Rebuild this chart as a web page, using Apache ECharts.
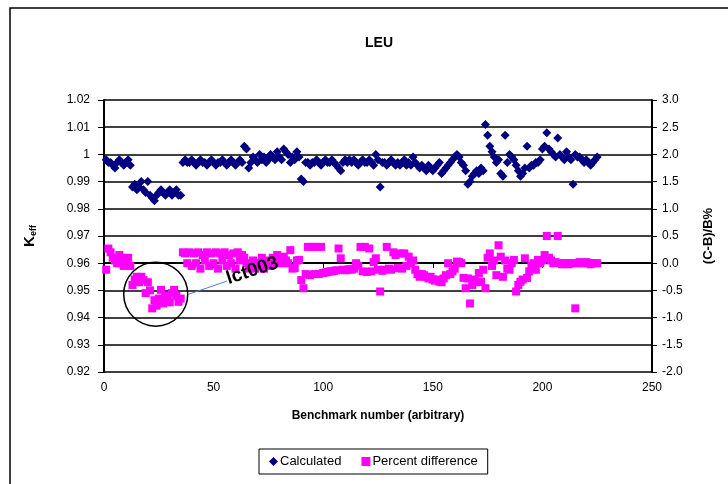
<!DOCTYPE html>
<html>
<head>
<meta charset="utf-8">
<script src="https://cdn.jsdelivr.net/npm/echarts@6/dist/echarts.min.js"></script>
<style>
  html, body { margin: 0; padding: 0; background: #fff; }
  #chart { width: 728px; height: 484px; }
</style>
</head>
<body>
<div id="chart"></div>
<script>
// benchmark number = index + 1
var calculated = [
  0.998, 0.997, 0.997, 0.996, 0.995, 0.997, 0.998, 0.997, 0.996, 0.997,
  0.998, 0.996, 0.988, 0.989, 0.987, 0.988, 0.990, 0.987, 0.986, 0.990,
  0.985, 0.984, 0.983, 0.985, 0.986, 0.987, 0.986, 0.985, 0.986, 0.987,
  0.985, 0.986, 0.987, 0.985, 0.985, 0.997, 0.998, 0.997, 0.997, 0.998,
  0.997, 0.996, 0.997, 0.998, 0.997, 0.997, 0.996, 0.997, 0.998, 0.997,
  0.996, 0.997, 0.997, 0.998, 0.997, 0.996, 0.997, 0.998, 0.997, 0.996,
  0.997, 0.998, 0.997, 1.003, 1.002, 0.995, 0.997, 0.999, 0.998, 0.997,
  1.000, 0.998, 0.999, 0.997, 0.998, 1.000, 0.999, 0.998, 1.001, 0.999,
  0.998, 1.002, 1.001, 1.000, 0.997, 0.999, 0.998, 1.001, 0.999, 0.991,
  0.990, 0.997, 0.997, 0.996, 0.997, 0.997, 0.998, 0.997, 0.996, 0.997,
  0.998, 0.997, 0.997, 0.998, 0.997, 0.996, 0.995, 0.994, 0.997, 0.998,
  0.997, 0.998, 0.997, 0.998, 0.997, 0.996, 0.997, 0.998, 0.997, 0.997,
  0.998, 0.997, 0.996, 1.000, 0.998, 0.988, 0.997, 0.997, 0.996, 0.997,
  0.998, 0.997, 0.996, 0.997, 0.996, 0.997, 0.998, 0.996, 0.997, 0.996,
  0.999, 0.997, 0.996, 0.995, 0.996, 0.995, 0.994, 0.996, 0.995, 0.994,
  0.995, 0.996, 0.997, 0.993, 0.994, 0.995, 0.996, 0.997, 0.998, 0.999,
  1.000, 0.999, 0.997, 0.996, 0.994, 0.989, 0.990, 0.992, 0.993, 0.994,
  0.993, 0.995, 0.994, 1.011, 1.007, 1.003, 1.001, 0.999, 0.997, 0.998,
  0.993, 0.992, 1.007, 0.997, 1.000, 0.999, 0.998, 0.996, 0.994, 0.992,
  0.993, 0.995, 1.003, 0.995, 0.996, 0.996, 0.997, 0.997, 0.998, 1.002,
  1.003, 1.008, 1.002, 1.001, 1.000, 0.999, 1.006, 1.000, 0.999, 0.998,
  1.001, 0.999, 0.998, 0.989, 1.000, 0.999, 0.999, 0.998, 0.997, 0.998,
  0.997, 0.996, 0.997, 0.998, 0.999
];

var percentDiff = [
  -0.12, 0.27, 0.20, 0.10, 0.05, 0.00, 0.15, 0.10, -0.05, 0.05,
  0.10, -0.05, -0.40, -0.30, -0.25, -0.35, -0.25, -0.31, -0.55, -0.35,
  -0.50, -0.83, -0.68, -0.78, -0.65, -0.49, -0.74, -0.60, -0.65, -0.72,
  -0.55, -0.49, -0.60, -0.71, -0.65, 0.20, 0.18, 0.00, 0.20, -0.05,
  0.18, 0.00, 0.20, -0.10, 0.15, 0.05, 0.20, -0.05, 0.18, 0.00,
  0.20, -0.10, 0.18, 0.05, 0.20, -0.05, 0.15, 0.00, 0.18, -0.10,
  0.20, 0.05, 0.15, 0.10, 0.00, -0.10, -0.05, 0.05, -0.10, 0.00,
  -0.05, 0.10, -0.10, 0.00, 0.05, -0.05, 0.10, 0.00, 0.15, 0.05,
  0.00, 0.12, 0.05, 0.00, 0.24, -0.10, -0.09, 0.05, 0.06, -0.31,
  -0.46, -0.20, 0.30, -0.22, 0.30, -0.20, 0.30, -0.20, 0.30, -0.18,
  -0.17, -0.16, -0.15, -0.15, -0.14, -0.13, 0.27, 0.09, -0.12, -0.13,
  -0.12, -0.11, -0.12, -0.10, 0.00, -0.05, 0.30, -0.15, 0.30, -0.16,
  0.27, -0.15, 0.02, 0.09, -0.12, -0.52, -0.14, -0.12, 0.30, -0.10,
  -0.12, 0.20, 0.15, -0.09, 0.18, -0.10, 0.18, -0.05, 0.12, 0.00,
  0.05, -0.12, -0.20, -0.25, -0.20, -0.22, -0.25, -0.28, -0.25, -0.30,
  -0.32, -0.30, -0.34, -0.35, -0.28, -0.22, 0.00, -0.20, -0.15, -0.10,
  0.03, 0.02, 0.00, -0.27, -0.46, -0.28, -0.74, -0.40, -0.30, -0.35,
  -0.18, -0.34, -0.12, -0.46, 0.10, 0.18, -0.05, 0.05, -0.22, 0.33,
  0.12, -0.25, 0.05, -0.10, -0.12, 0.00, 0.06, -0.52, -0.40, -0.34,
  -0.30, 0.09, -0.27, -0.15, -0.05, 0.00, -0.12, 0.06, 0.00, 0.05,
  0.15, 0.50, 0.10, 0.05, 0.00, 0.02, 0.50, 0.00, -0.02, 0.00,
  0.00, -0.02, 0.00, 0.00, -0.83, 0.00, 0.02, 0.00, 0.00, 0.02,
  0.00, -0.02, 0.00, 0.00, 0.00
];

var xTicks = { min: 0, max: 250, interval: 50 };
var keffTicks = { min: 0.92, max: 1.02, interval: 0.01 };
var pctTicks = { min: -2, max: 3, interval: 0.5 };

var font = '"Liberation Sans", Arial, sans-serif';

var chart = echarts.init(document.getElementById('chart'));

function toPairs(arr) {
  return arr.map(function (v, i) { return [i + 1, v]; });
}

chart.setOption({
  animation: false,
  textStyle: { fontFamily: font, color: '#000' },
  title: {
    text: 'LEU',
    left: 374,
    textAlign: 'center',
    top: 31,
    textStyle: { fontFamily: font, fontSize: 14, fontWeight: 'bold', color: '#000' }
  },
  grid: { left: 104, right: 76, top: 100, bottom: 112 },
  legend: {
    left: 259,
    top: 449,
    padding: [6, 10],
    borderColor: '#000',
    borderWidth: 1,
    itemWidth: 9,
    itemHeight: 9,
    itemGap: 20,
    textStyle: { fontFamily: font, fontSize: 13, color: '#000', padding: [0, 0, 0, -3] },
    data: [
      { name: 'Calculated', icon: 'diamond' },
      { name: 'Percent difference', icon: 'rect' }
    ]
  },
  xAxis: {
    type: 'value',
    min: xTicks.min,
    max: xTicks.max,
    interval: xTicks.interval,
    name: 'Benchmark number (arbitrary)',
    nameLocation: 'middle',
    nameGap: 38,
    nameTextStyle: { fontFamily: font, fontSize: 12, fontWeight: 'bold', color: '#000' },
    axisLine: { lineStyle: { color: '#000', width: 2 } },
    axisTick: { inside: false, length: 5, lineStyle: { color: '#000' } },
    axisLabel: { margin: 10, fontSize: 12, color: '#000' },
    splitLine: { show: false }
  },
  yAxis: [
    {
      type: 'value',
      min: keffTicks.min,
      max: keffTicks.max,
      interval: keffTicks.interval,
      name: '{k|K}{s|eff}',
      nameLocation: 'middle',
      nameGap: 66,
      nameTextStyle: {
        rich: {
          k: { fontFamily: font, fontSize: 15, fontWeight: 'bold', color: '#000' },
          s: { fontFamily: font, fontSize: 9, fontWeight: 'bold', color: '#000', verticalAlign: 'bottom', padding: [7, 0, 0, 0] }
        }
      },
      axisLine: { show: true, lineStyle: { color: '#000', width: 2 } },
      axisTick: { show: true, inside: false, length: 6, lineStyle: { color: '#000' } },
      axisLabel: {
        margin: 14,
        fontSize: 12,
        color: '#000',
        formatter: function (v) { return String(+v.toFixed(2)); }
      },
      splitLine: { show: true, lineStyle: { color: '#000', width: 1.5 } }
    },
    {
      type: 'value',
      min: pctTicks.min,
      max: pctTicks.max,
      interval: pctTicks.interval,
      name: '(C-B)/B%',
      nameLocation: 'middle',
      nameGap: 50,
      nameTextStyle: { fontFamily: font, fontSize: 13, fontWeight: 'bold', color: '#000' },
      axisLine: { show: true, lineStyle: { color: '#000', width: 2 } },
      axisTick: { show: true, inside: false, length: 5, lineStyle: { color: '#000' } },
      axisLabel: {
        margin: 10,
        fontSize: 12,
        color: '#000',
        formatter: function (v) { return v.toFixed(1); }
      },
      splitLine: { show: false }
    }
  ],
  series: [
    {
      name: 'Calculated',
      type: 'scatter',
      yAxisIndex: 0,
      symbol: 'diamond',
      symbolSize: 9,
      itemStyle: { color: '#000080', opacity: 1 },
      data: toPairs(calculated)
    },
    {
      name: 'Percent difference',
      type: 'scatter',
      yAxisIndex: 1,
      symbol: 'rect',
      symbolSize: 8,
      itemStyle: { color: '#FF00FF', opacity: 1 },
      data: toPairs(percentDiff)
    }
  ]
});

// annotation: circle around the lct003 group, with leader line and label
var c = chart.convertToPixel({ xAxisIndex: 0, yAxisIndex: 1 }, [23.6, -0.57]);
var r = 32;
chart.setOption({
  graphic: [
    {
      type: 'rect',
      shape: { x: 10, y: 8, width: 800, height: 600 },
      style: { fill: 'none', stroke: '#000', lineWidth: 1.5 },
      silent: true
    },
    {
      type: 'circle',
      shape: { cx: c[0], cy: c[1], r: r },
      style: { fill: 'none', stroke: '#000', lineWidth: 1.5 },
      z: 10
    },
    {
      type: 'line',
      shape: { x1: c[0] + r + 1, y1: c[1], x2: c[0] + r + 39, y2: c[1] - 13 },
      style: { stroke: '#4a7ebb', lineWidth: 1 },
      z: 10
    },
    {
      type: 'text',
      x: c[0] + r + 42,
      y: c[1] - 6,
      rotation: 18 * Math.PI / 180,
      style: {
        text: 'lct003',
        font: 'bold 19px ' + font,
        fill: '#000',
        align: 'left',
        verticalAlign: 'bottom'
      },
      z: 10
    }
  ]
});
</script>
</body>
</html>
